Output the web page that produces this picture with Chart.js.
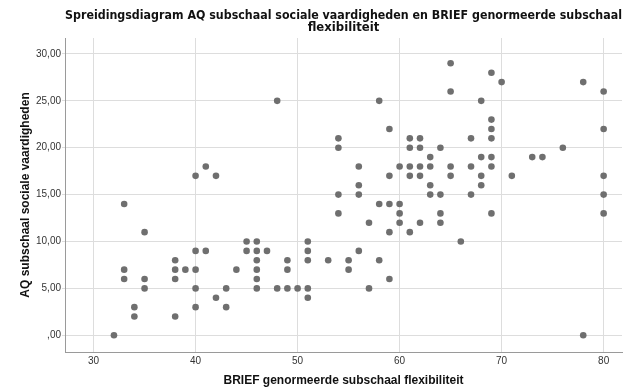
<!DOCTYPE html>
<html>
<head>
<meta charset="utf-8">
<script src="https://cdn.jsdelivr.net/npm/chart.js@4/dist/chart.umd.min.js"></script>
<style>
  html, body { margin: 0; padding: 0; background: #fff; }
  #wrap { width: 626px; height: 390px; }
</style>
</head>
<body>
<div id="wrap"><canvas id="scatter"></canvas></div>
<script>
// BRIEF genormeerde subschaal flexibiliteit (x) and AQ subschaal sociale vaardigheden (y)
const briefFlex = [
  32, 33, 33, 33, 34, 34, 35, 35, 35, 38, 38, 38, 38, 39,
  40, 40, 40, 40, 40, 41, 41, 42, 42, 43, 43, 44,
  45, 45, 46, 46, 46, 46, 46, 46, 47, 48, 48, 49, 49, 49, 50,
  51, 51, 51, 51, 51, 53, 54, 54, 54, 54, 55, 55,
  56, 56, 56, 56, 57, 57, 58, 58, 58, 59, 59, 59, 59, 59,
  60, 60, 60, 60, 61, 61, 61, 61, 61, 62, 62, 62, 62, 62,
  63, 63, 63, 63, 64, 64, 64, 64, 65, 65, 65, 65, 66,
  67, 67, 67, 68, 68, 68, 68, 69, 69, 69, 69, 69, 69, 69,
  70, 71, 73, 74, 76, 78, 78, 80, 80, 80, 80, 80
];
const aqSocial = [
  0, 14, 7, 6, 3, 2, 11, 6, 5, 8, 7, 6, 2, 7,
  17, 9, 7, 5, 3, 18, 9, 17, 4, 5, 3, 7,
  10, 9, 10, 9, 8, 7, 6, 5, 9, 25, 5, 8, 7, 5, 5,
  10, 9, 8, 5, 4, 8, 21, 20, 15, 13, 8, 7,
  18, 16, 15, 9, 12, 5, 25, 14, 8, 22, 17, 14, 11, 6,
  18, 14, 13, 12, 21, 20, 18, 17, 11, 21, 20, 18, 17, 12,
  19, 18, 16, 15, 20, 15, 13, 12, 29, 26, 18, 17, 10,
  21, 18, 15, 25, 19, 17, 16, 28, 23, 22, 21, 19, 18, 13,
  27, 17, 19, 19, 20, 27, 0, 26, 22, 17, 15, 13
];

const xTicks = [30, 40, 50, 60, 70, 80];
const xTickLabels = ['30', '40', '50', '60', '70', '80'];
const yTicks = [0, 5, 10, 15, 20, 25, 30];
const yTickLabels = [',00', '5,00', '10,00', '15,00', '20,00', '25,00', '30,00'];

const points = briefFlex.map((x, i) => ({ x: x, y: aqSocial[i] }));

const tickFont = { family: 'Liberation Sans', size: 10 };
const axisTitleFont = { family: 'Liberation Sans', size: 12, weight: 'bold', lineHeight: 1.2 };

new Chart(document.getElementById('scatter'), {
  type: 'scatter',
  data: {
    datasets: [{
      data: points,
      backgroundColor: '#6f6f6f',
      borderColor: '#6f6f6f',
      borderWidth: 0,
      pointRadius: 3.3,
      pointHoverRadius: 3.3
    }]
  },
  options: {
    responsive: true,
    maintainAspectRatio: false,
    animation: false,
    events: [],
    layout: { padding: { left: 0, right: 4, top: 0, bottom: 0 } },
    plugins: {
      legend: { display: false },
      tooltip: { enabled: false },
      title: {
        display: true,
        fullSize: false,
        text: [
          'Spreidingsdiagram AQ subschaal sociale vaardigheden en BRIEF genormeerde subschaal',
          'flexibiliteit'
        ],
        color: '#111',
        font: { family: 'DejaVu Sans', size: 11.7, weight: 'bold', lineHeight: '12px' },
        padding: { top: 10, bottom: 4 }
      }
    },
    scales: {
      x: {
        type: 'linear',
        min: 27.2,
        max: 81.8,
        afterBuildTicks: (scale) => { scale.ticks = xTicks.map(v => ({ value: v })); },
        afterFit: (scale) => { scale.height = 38; },
        ticks: {
          color: '#333',
          font: tickFont,
          padding: 2,
          maxRotation: 0,
          callback: (value) => xTickLabels[xTicks.indexOf(value)]
        },
        grid: { color: '#dddddd', tickLength: 1, lineWidth: 1 },
        border: { color: '#9a9a9a', width: 1 },
        title: {
          display: true,
          text: 'BRIEF genormeerde subschaal flexibiliteit',
          color: '#111',
          font: axisTitleFont,
          padding: { top: 0, bottom: 2 }
        }
      },
      y: {
        type: 'linear',
        min: -1.78,
        max: 31.7,
        afterBuildTicks: (scale) => { scale.ticks = yTicks.map(v => ({ value: v })); },
        afterFit: (scale) => { scale.width = 65; },
        ticks: {
          color: '#333',
          font: tickFont,
          padding: 1,
          callback: (value) => yTickLabels[yTicks.indexOf(value)]
        },
        grid: { color: '#dddddd', tickLength: 3, lineWidth: 1 },
        border: { color: '#9a9a9a', width: 1 },
        title: {
          display: true,
          text: 'AQ subschaal sociale vaardigheden',
          color: '#111',
          font: axisTitleFont,
          padding: { top: 18, bottom: 0 }
        }
      }
    }
  }
});
</script>
</body>
</html>
